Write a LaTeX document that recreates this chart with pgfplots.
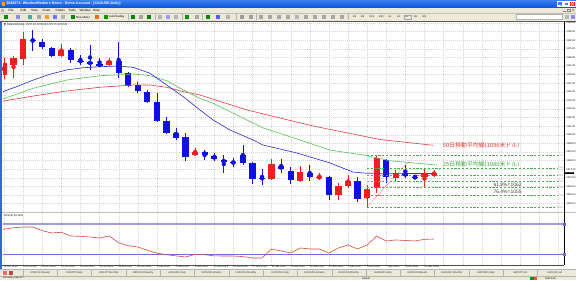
\documentclass[border=0pt]{standalone}
\usepackage{pgfplots}
\pgfplotsset{compat=1.18}
\usepackage{pgfplotstable}
\usepackage{fontspec}
\setmainfont{Liberation Sans}
\newfontfamily\jp{Noto Sans CJK JP}
\newfontfamily\djv{DejaVu Sans}
\definecolor{candleup}{HTML}{F01E1E}
\definecolor{candledn}{HTML}{1010E0}
\definecolor{mablue}{HTML}{3636C8}
\definecolor{magreen}{HTML}{66C466}
\definecolor{mared}{HTML}{DE4A4A}
\definecolor{fibgreen}{HTML}{55A855}
\definecolor{annred}{HTML}{E23A3A}
\definecolor{anngreen}{HTML}{3FA83F}
\definecolor{xpblue}{HTML}{0A54DC}
\definecolor{xpblue2}{HTML}{3A80F0}
\definecolor{xpbeige}{HTML}{ECE9D8}
\definecolor{gridc}{HTML}{D4D4D4}
\definecolor{lvltop}{HTML}{9C9CE4}
\definecolor{lvlbot}{HTML}{6E6ED8}
\definecolor{rsired}{HTML}{D64848}
\definecolor{framec}{HTML}{3A66C8}

\pgfplotstableread{
i o h l c
0 1153.7 1167.5 1150.4 1163.5
1 1161.8 1169.2 1151.3 1167.5
2 1166.7 1188.7 1161.8 1183.0
6 1169.2 1178.9 1168.3 1174.0
11 1161.8 1167.5 1161.0 1165.1
20 1088.6 1094.3 1087.8 1091.0
28 1069.0 1085.3 1068.2 1081.2
31 1067.4 1079.6 1066.6 1074.7
33 1069.9 1073.9 1068.2 1070.7
35 1056.0 1065.8 1051.9 1063.3
36 1063.3 1072.3 1061.7 1067.4
38 1053.6 1064.2 1045.4 1060.9
39 1061.7 1088.0 1057.6 1086.1
41 1069.9 1076.4 1066.6 1073.9
44 1070.9 1077.2 1061.7 1074.2
45 1072.3 1076.4 1070.7 1073.9
}\upcandles

\pgfplotstableread{
i o h l c
3 1182.2 1190.3 1173.2 1181.4
4 1180.6 1183.0 1174.9 1176.5
5 1175.7 1176.5 1168.3 1169.2
7 1174.0 1175.7 1163.5 1165.9
8 1165.3 1170.0 1161.8 1164.5
9 1164.3 1178.1 1157.8 1162.6
10 1162.6 1167.5 1160.2 1161.0
12 1165.1 1180.6 1151.3 1155.3
13 1155.3 1156.1 1143.9 1144.7
14 1145.6 1148.0 1139.0 1140.7
15 1139.9 1141.5 1130.9 1131.7
16 1131.7 1139.0 1115.4 1116.3
17 1116.3 1119.5 1105.7 1106.5
18 1106.5 1110.6 1100.8 1102.4
19 1103.2 1106.5 1083.7 1086.9
21 1091.0 1092.6 1084.5 1088.6
22 1087.8 1090.2 1083.7 1085.3
23 1084.5 1088.6 1073.9 1082.9
24 1082.9 1086.1 1078.8 1082.1
25 1088.6 1096.7 1080.4 1082.1
26 1082.1 1082.9 1065.0 1069.0
27 1069.9 1077.2 1064.2 1069.4
29 1079.6 1085.3 1073.9 1077.2
30 1075.5 1078.8 1065.0 1068.2
32 1073.9 1080.4 1067.4 1070.7
34 1070.7 1071.5 1051.9 1056.0
37 1067.4 1070.7 1050.3 1052.8
40 1084.5 1085.3 1065.8 1070.7
42 1073.9 1080.4 1069.9 1071.5
43 1070.7 1072.3 1069.4 1069.9
}\dncandles

\pgfplotstableread{
i v
-0.42 1139.3
1.33 1144.2
3.07 1149.6
4.81 1154.3
6.56 1157.8
8.30 1159.6
10.05 1160.4
11.79 1161.0
13.53 1159.9
15.28 1155.1
17.03 1145.5
18.76 1136.0
20.51 1125.2
21.87 1117.1
23.65 1108.9
26.06 1100.8
27.10 1096.7
30.66 1090.2
34.11 1082.1
36.52 1074.7
38.00 1073.7
45.00 1073.5
}\mablue

\pgfplotstableread{
i v
-0.42 1133.3
3.07 1142.9
6.56 1149.6
10.05 1153.1
13.53 1154.5
15.28 1153.1
17.03 1149.0
18.76 1141.5
20.51 1134.6
21.90 1130.6
27.10 1110.6
30.98 1100.8
34.10 1092.6
37.60 1088.6
40.40 1083.9
45.30 1080.4
}\magreen

\pgfplotstableread{
i v
-0.42 1132.0
3.07 1136.6
6.56 1140.7
10.05 1143.7
13.53 1145.5
15.28 1145.5
17.03 1143.7
18.76 1140.1
20.51 1137.4
25.43 1125.2
32.34 1112.2
39.35 1101.2
44.89 1096.5
}\mared

\pgfplotstableread{
i v
-0.42 62
0 63
1 65
2 66
3 66
4 61
5 58
6 59
7 54
8 53.5
9 52.7
10 51.3
11 54
12 45
13 41
14 39.3
15 35
16 31
17 29
18 27.5
19 26
20 29.5
21 29
22 27.5
23 27.3
24 27.3
25 26.5
26 24.7
27 24.7
28 36.7
29 34
30 31.3
31 38
32 36.7
33 36.7
34 31.3
35 38
36 42
37 36.7
38 42
39 54
40 47.3
41 48.7
42 48
43 47.3
44 49.5
45 50
}\rsi

\begin{document}
\begin{tikzpicture}[x=1bp,y=1bp]
\useasboundingbox (0,0) rectangle (576,-280);
\fill[white] (0,0) rectangle (576,-280);

% ---------- window chrome ----------
\shade[top color=xpblue2, bottom color=xpblue] (0,0) rectangle (576,-7.5);
\fill[orange!70!yellow] (1.5,-1.6) rectangle (4.8,-5.8);
\node[anchor=west, text=white, font=\bfseries\fontsize{3.6}{4}\selectfont, inner sep=0] at (6.3,-3.8) {3049271: WindsorBrokers Demo - Demo Account - [XAUUSD,Daily]};
\fill[xpblue2, draw=white, line width=0.3bp] (557,-1) rectangle (562.6,-6.6);
\draw[white, line width=0.5bp] (558.3,-5.4) -- (561,-5.4);
\fill[xpblue2, draw=white, line width=0.3bp] (563.3,-1) rectangle (568.9,-6.6);
\draw[white, line width=0.4bp] (564.5,-2.3) rectangle (567.7,-5.4);
\fill[red!75!orange, draw=white, line width=0.3bp] (569.6,-1) rectangle (575.5,-6.6);
\draw[white, line width=0.5bp] (571,-2.3) -- (574,-5.4) (571,-5.4) -- (574,-2.3);
% menu
\fill[xpbeige] (0,-7.5) rectangle (576,-21.6);
\fill[gray!60] (1.2,-8.6) rectangle (4.2,-12);
\foreach \x/\t in {8.5/File, 20.5/Edit, 31/View, 42.5/Insert, 55.5/Charts, 68.5/Tools, 79.5/Window, 93/Help}
  {\node[anchor=west, font=\fontsize{3.1}{3.5}\selectfont, inner sep=0] at (\x,-10.2) {\t};}
\draw[gray, line width=0.4bp] (563,-11.3) -- (565.5,-11.3);
\draw[gray, line width=0.4bp] (567.5,-8.8) rectangle (570,-11.3);
\draw[gray, line width=0.4bp] (572,-8.8) -- (574.5,-11.3) (572,-11.3) -- (574.5,-8.8);
\draw[gray!50] (0,-12.8) -- (576,-12.8);
% toolbar
\foreach \x/\c in {4/green!55!black, 16/blue!45, 27.5/teal!70, 37/gray!70, 45/orange!80, 53/blue!55, 61/gray!60, 71/green!55!black, 95/orange!85!red, 104/green!60!black,
  131/green!50!black, 139/gray!70, 147/green!50!black, 158/gray!60, 166/blue!40, 174/gray!60, 185/green!55!black, 195/gray!70,
  206/green!55!black, 216/blue!65, 226/gray!60, 240/gray!75, 249/gray!75, 259/gray!70, 268/gray!70, 277/gray!70, 286/gray!70, 295/gray!60, 304/gray!70, 313/gray!70, 322/gray!70, 331/gray!70, 340/gray!70}
  {\fill[\c] (\x,-14.8) rectangle ++(4,-4.2);}
\node[anchor=west, font=\fontsize{2.8}{3}\selectfont, inner sep=0] at (76,-17) {New Order};
\node[anchor=west, font=\fontsize{2.8}{3}\selectfont, inner sep=0] at (109,-17) {AutoTrading};
\foreach \x in {128,155,182,202,236,256,348} {\draw[gray!60, line width=0.3bp] (\x,-14) -- (\x,-20);}
\foreach \x/\t in {352/M1, 360/M5, 368.5/M15, 378/M30, 387.5/H1, 396/H4, 404.5/D1, 413/W1, 421.5/MN}
  {\node[anchor=west, font=\fontsize{2.5}{3}\selectfont, inner sep=0.6bp, text=gray!30!black] at (\x,-17) {\t};}
\draw[gray!70, line width=0.3bp] (404.2,-14.8) rectangle (411.6,-19.2);
\fill[white, draw=gray!60, line width=0.3bp] (516,-14.6) rectangle (562,-19.4);
\fill[gray!55] (564.5,-15) rectangle (568.5,-19);
\fill[blue!45] (570.5,-15) rectangle (574.5,-19);
\draw[gray!70!black, line width=0.5bp] (0,-21.7) -- (576,-21.7);
% chart window frame
\fill[framec] (0,-21.7) rectangle (2.2,-269.5);

% ---------- main price axis ----------
\begin{axis}[
  at={(3bp,-22bp)}, anchor=north west,
  scale only axis, width=561bp, height=190bp,
  xmin=-0.105, xmax=58.6, ymin=1042.2, ymax=1196.8,
  axis line style={draw=none},
  xtick={0,2,...,58}, xticklabels={}, xtick style={draw=none},
  ytick={1049,1056,...,1196}, ytick pos=right, yticklabel pos=right,
  ytick style={black, line width=0.3bp}, major tick length=1.4bp, tick align=outside,
  /pgf/number format/assume math mode=true,
  yticklabel={\pgfmathprintnumber[fixed,fixed zerofill,precision=2,1000 sep={}]{\tick}},
  yticklabel style={font=\fontsize{2.5}{3}\selectfont, inner sep=0.4bp, xshift=0.4bp},
  grid=major, major grid style={gridc, dash pattern=on 1bp off 1bp, line width=0.35bp},
]
% wicks
\addplot[only marks, mark=none, candleup, error bars/.cd, y dir=both, y explicit, error mark=none,
  error bar style={line width=0.8bp, candleup}]
  table[x=i, y expr={(\thisrow{h}+\thisrow{l})/2}, y error expr={(\thisrow{h}-\thisrow{l})/2}] {\upcandles};
\addplot[only marks, mark=none, candledn, error bars/.cd, y dir=both, y explicit, error mark=none,
  error bar style={line width=0.8bp, candledn}]
  table[x=i, y expr={(\thisrow{h}+\thisrow{l})/2}, y error expr={(\thisrow{h}-\thisrow{l})/2}] {\dncandles};
% bodies
\addplot[only marks, mark=none, candleup, error bars/.cd, y dir=both, y explicit, error mark=none,
  error bar style={line width=6.2bp, candleup}]
  table[x=i, y expr={(\thisrow{o}+\thisrow{c})/2}, y error expr={max(abs(\thisrow{o}-\thisrow{c})/2,0.4)}] {\upcandles};
\addplot[only marks, mark=none, candledn, error bars/.cd, y dir=both, y explicit, error mark=none,
  error bar style={line width=6.2bp, candledn}]
  table[x=i, y expr={(\thisrow{o}+\thisrow{c})/2}, y error expr={max(abs(\thisrow{o}-\thisrow{c})/2,0.4)}] {\dncandles};
% moving averages
\addplot[mared, line width=0.65bp] table[x=i, y=v] {\mared};
\addplot[magreen, line width=0.65bp] table[x=i, y=v] {\magreen};
\addplot[mablue, line width=0.65bp] table[x=i, y=v] {\mablue};
% fibonacci levels
\addplot[fibgreen, dash pattern=on 2.2bp off 1.6bp, line width=0.5bp] coordinates {(37.99,1088.0) (58.4,1088.0)};
\addplot[fibgreen, dash pattern=on 2.2bp off 1.6bp, line width=0.5bp] coordinates {(37.99,1078.1) (58.4,1078.1)};
\addplot[fibgreen, dash pattern=on 2.2bp off 1.6bp, line width=0.5bp] coordinates {(37.99,1072.0) (58.4,1072.0)};
\addplot[fibgreen, dash pattern=on 2.2bp off 1.6bp, line width=0.5bp] coordinates {(37.99,1067.0) (58.4,1067.0)};
\addplot[fibgreen, dash pattern=on 2.2bp off 1.6bp, line width=0.5bp] coordinates {(37.99,1062.0) (58.4,1062.0)};
\addplot[fibgreen, dash pattern=on 2.2bp off 1.6bp, line width=0.5bp] coordinates {(37.99,1055.9) (58.4,1055.9)};
\addplot[fibgreen, dash pattern=on 2.2bp off 1.6bp, line width=0.5bp] coordinates {(37.99,1046.0) (58.4,1046.0)};
\addplot[red!80, dash pattern=on 0.6bp off 0.9bp, line width=0.45bp] coordinates {(37.99,1046.5) (42.8,1087.2)};
\node[anchor=east, text=fibgreen, fill=white, inner sep=0.25bp, font=\fontsize{2.5}{3}\selectfont] at (axis cs:58.55,1088.0) {0.0};
\node[anchor=east, text=fibgreen, fill=white, inner sep=0.25bp, font=\fontsize{2.5}{3}\selectfont] at (axis cs:58.55,1078.1) {23.6};
\node[anchor=east, text=fibgreen, fill=white, inner sep=0.25bp, font=\fontsize{2.5}{3}\selectfont] at (axis cs:58.55,1072.0) {38.2};
\node[anchor=east, text=fibgreen, fill=white, inner sep=0.25bp, font=\fontsize{2.5}{3}\selectfont] at (axis cs:58.55,1067.0) {50.0};
\node[anchor=east, text=fibgreen, fill=white, inner sep=0.25bp, font=\fontsize{2.5}{3}\selectfont] at (axis cs:58.55,1062.0) {61.8};
\node[anchor=east, text=fibgreen, fill=white, inner sep=0.25bp, font=\fontsize{2.5}{3}\selectfont] at (axis cs:58.55,1055.9) {76.4};
\node[anchor=east, text=fibgreen, fill=white, inner sep=0.25bp, font=\fontsize{2.5}{3}\selectfont] at (axis cs:58.55,1046.0) {100.0};
% annotations
\node[anchor=west, text=annred, inner sep=0, font=\jp\fontsize{5.9}{6.5}\selectfont] at (axis cs:45.9,1096.1) {50日移動平均線(1096米ドル)};
\node[anchor=west, text=anngreen, inner sep=0, font=\jp\fontsize{5.9}{6.5}\selectfont] at (axis cs:45.9,1080.4) {25日移動平均線(1080米ドル)};
\node[anchor=west, text=black!75, inner sep=0, font=\fontsize{5}{6}\selectfont] at (axis cs:51.2,1064.7) {61.8\%=1062};
\node[anchor=west, text=black!75, inner sep=0, font=\fontsize{5}{6}\selectfont] at (axis cs:51.2,1058.7) {76.4\%=1055};
\coordinate (pb) at (axis cs:58.6,1073.9);
\end{axis}

% ---------- lower indicator axis ----------
\begin{axis}[
  at={(3bp,-214bp)}, anchor=north west,
  scale only axis, width=561bp, height=51bp,
  xmin=-0.105, xmax=58.6, ymin=15.3, ymax=83.3,
  axis line style={draw=none},
  xtick={0,2,...,58},
  xticklabels={12 Oct 2015,14 Oct 2015,16 Oct 2015,20 Oct 2015,22 Oct 2015,26 Oct 2015,28 Oct 2015,30 Oct 2015,3 Nov 2015,5 Nov 2015,9 Nov 2015,11 Nov 2015,13 Nov 2015,17 Nov 2015,19 Nov 2015,23 Nov 2015,25 Nov 2015,27 Nov 2015,1 Dec 2015,3 Dec 2015,7 Dec 2015,9 Dec 2015,11 Dec 2015,,,,,,,},
  xtick style={draw=none}, ytick=\empty,
  xticklabel style={font=\fontsize{2.5}{3}\selectfont, anchor=north west, inner sep=0.3bp, yshift=0.2bp, xshift=-0.5bp},
  grid=major, major grid style={gridc, dash pattern=on 1bp off 1bp, line width=0.35bp},
]
\addplot[lvltop, line width=1.6bp] coordinates {(-1,70) (60,70)};
\addplot[lvlbot, line width=0.8bp] coordinates {(-1,30) (60,30)};
\addplot[rsired, line width=0.6bp] table[x=i, y=v] {\rsi};
\end{axis}

% ---------- overlays ----------
\node[anchor=west, font=\fontsize{2.7}{3}\selectfont, inner sep=0] at (4,-24.9) {{\djv\fontsize{2.4}{3}\selectfont ▼}\ XAUUSD,Daily\ \ 1072.30 1076.40 1070.70 1073.91};
\draw[gray!60!black, line width=0.9bp] (2.2,-212.9) -- (576,-212.9);
\draw[gray!50, line width=0.3bp] (2.2,-211.9) -- (576,-211.9);
\node[anchor=west, font=\fontsize{2.6}{3}\selectfont, inner sep=0] at (4,-216.2) {RSI(14) 50.1842};
\draw[gray!60!black, line width=0.5bp] (2.2,-265.2) -- (564,-265.2);
\draw[black, line width=0.4bp] (564,-21.7) -- (564,-265.2);
\node[anchor=west, fill=black, text=white, inner sep=0.35bp, font=\fontsize{2.5}{3}\selectfont] at (pb) {1073.91};
\fill[lvlbot] (563.3,-222.5) rectangle (566.3,-225.5);
\fill[lvlbot] (563.3,-252.8) rectangle (566.3,-255.8);
\fill[black] (564.2,-262) rectangle (565.2,-264.5);
% tabs
\fill[xpbeige] (0,-269.5) rectangle (576,-280);
\draw[gray!60, line width=0.3bp] (0,-269.5) -- (576,-269.5);
\fill[red!60] (3,-271) rectangle (7,-275);
\fill[red!45!gray] (9,-271) rectangle (13,-275);
\foreach \n [count=\k from 0] in {{USDCHF,Weekly},{USDJPY,Daily},{USDJPY,Monthly},{GBPUSD,Weekly},{AUDUSD,Daily},{NZDUSD,Weekly},{USDCAD,Monthly},{USDCAD,Daily},{EURUSD,Weekly},{EURCHF,Monthly},{EURUSD,Daily},{EURCHF,Weekly},{EURUSD,Monthly},{GBPUSD,Daily},{GBPJPY,H4},{AUDUSD,H4}}
  {\draw[gray!60, line width=0.3bp] (23+34.3*\k,-270.3) -- (23+34.3*\k,-275.8);
   \node[font=\fontsize{2.6}{3}\selectfont, inner sep=0, text=black!80] at (23+34.3*\k+17.1,-273) {\n};}
\draw[gray!60, line width=0.3bp] (0,-276.6) -- (576,-276.6);
\node[anchor=west, font=\fontsize{2.4}{3}\selectfont, inner sep=0] at (3,-278.3) {For Help, press F1};
\node[anchor=west, font=\fontsize{2.4}{3}\selectfont, inner sep=0] at (362,-278.3) {Default};
\fill[green!60!black] (530,-277.2) rectangle (534,-279.5);
\fill[red!70] (534,-277.2) rectangle (537,-279.5);
\node[anchor=west, font=\fontsize{2.4}{3}\selectfont, inner sep=0] at (545,-278.3) {2697/3 kb};
\end{tikzpicture}
\end{document}
